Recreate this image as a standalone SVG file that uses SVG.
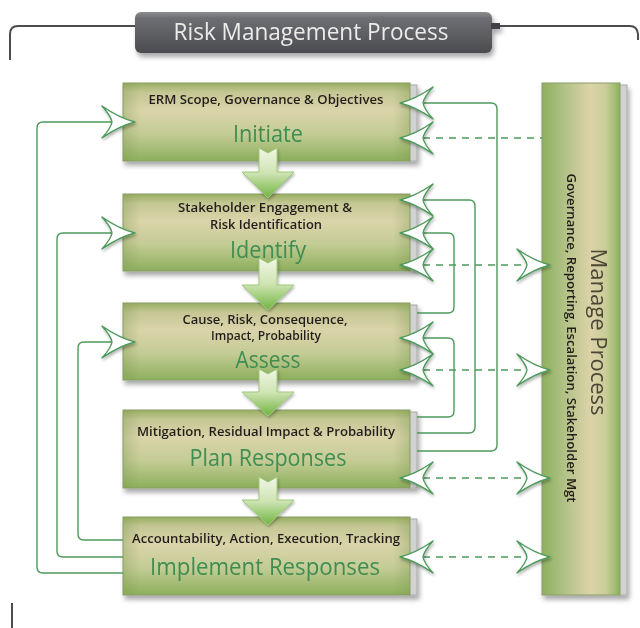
<svg xmlns="http://www.w3.org/2000/svg" xmlns:xlink="http://www.w3.org/1999/xlink" width="640" height="628" viewBox="0 0 640 628">
<defs>
<linearGradient id="boxg" x1="0" y1="0" x2="0" y2="1">
<stop offset="0" stop-color="#98ae62"/>
<stop offset="0.12" stop-color="#c4c794"/>
<stop offset="0.35" stop-color="#dad4aa"/>
<stop offset="0.65" stop-color="#c4cc95"/>
<stop offset="1" stop-color="#8caf5c"/>
</linearGradient>
<linearGradient id="boxside" x1="0" y1="0" x2="1" y2="0">
<stop offset="0" stop-color="#7f9a52" stop-opacity="0.35"/>
<stop offset="0.06" stop-color="#7f9a52" stop-opacity="0"/>
<stop offset="0.94" stop-color="#7f9a52" stop-opacity="0"/>
<stop offset="1" stop-color="#7f9a52" stop-opacity="0.35"/>
</linearGradient>
<linearGradient id="mgrg" x1="0" y1="0" x2="1" y2="0">
<stop offset="0" stop-color="#8db05e"/>
<stop offset="0.3" stop-color="#b3c287"/>
<stop offset="0.62" stop-color="#dcd3a9"/>
<stop offset="0.82" stop-color="#cbcc99"/>
<stop offset="1" stop-color="#8cb25c"/>
</linearGradient>
<linearGradient id="titleg" x1="0" y1="0" x2="0" y2="1">
<stop offset="0" stop-color="#8c8d91"/>
<stop offset="0.15" stop-color="#6d6e72"/>
<stop offset="0.6" stop-color="#5b5c60"/>
<stop offset="1" stop-color="#4a4b4f"/>
</linearGradient>
<linearGradient id="downg" x1="0" y1="0" x2="0" y2="1">
<stop offset="0" stop-color="#f2f6e6"/>
<stop offset="0.5" stop-color="#cfe4b4"/>
<stop offset="1" stop-color="#6fb43f"/>
</linearGradient>
<filter id="sh" x="-10%" y="-10%" width="125%" height="135%">
<feGaussianBlur in="SourceAlpha" stdDeviation="2.5"/>
<feOffset dx="2" dy="4" result="b"/>
<feComponentTransfer><feFuncA type="linear" slope="0.35"/></feComponentTransfer>
<feMerge><feMergeNode/><feMergeNode in="SourceGraphic"/></feMerge>
</filter>
<filter id="ash" x="-30%" y="-30%" width="160%" height="160%">
<feGaussianBlur in="SourceAlpha" stdDeviation="1.5"/>
<feOffset dx="1" dy="2"/>
<feComponentTransfer><feFuncA type="linear" slope="0.3"/></feComponentTransfer>
<feMerge><feMergeNode/><feMergeNode in="SourceGraphic"/></feMerge>
</filter>
<path id="ah" d="M0,0 Q-16,-4 -33,-16 Q-24,-6 -23,0 Q-24,6 -33,16 Q-16,4 0,0 Z" fill="#ffffff" stroke="#4e9a5c" stroke-width="1.4" stroke-linejoin="round"/>
</defs>
<style>
.frame{fill:none;stroke:#4d4d4d;stroke-width:2}
.box{fill:url(#boxg);stroke:#8a9e68;stroke-width:1}
.edge{fill:#d2d2d2;stroke:#a9a9a9;stroke-width:1}
.sm{font-family:"Open Sans","Noto Sans",sans-serif;font-size:12px;font-weight:600;fill:#231f1a;text-anchor:middle}
.big{font-family:"Open Sans","Noto Sans",sans-serif;font-size:23px;fill:#3f8d52;text-anchor:middle}
.ln{fill:none;stroke:#4e9a5c;stroke-width:1.4}
.dl{fill:none;stroke:#4e9a5c;stroke-width:1.4;stroke-dasharray:7 6}
.down{fill:url(#downg);stroke:#9ccb78;stroke-width:1}
</style>
<rect width="640" height="628" fill="#ffffff"/>
<g id="frame">
<path class="frame" d="M10,60 V34 Q10,26 18,26 H135"/>
<path class="frame" d="M492,26 H630 Q637,26 638,34 V40"/>
<path class="frame" d="M12,603 V628"/>
</g>
<g id="title" filter="url(#sh)">
<rect x="135" y="12" width="357" height="41" rx="6" fill="url(#titleg)"/>
<rect x="491" y="23" width="9" height="6" fill="#3f4044"/>
<text x="311" y="40" font-family="'Open Sans','Noto Sans',sans-serif" font-size="24" fill="#ebebeb" text-anchor="middle" textLength="275" lengthAdjust="spacingAndGlyphs">Risk Management Process</text>
</g>
<g id="manage" filter="url(#sh)">
<rect class="edge" x="619" y="85" width="8" height="510"/>
<rect x="542" y="83" width="78" height="512" fill="url(#mgrg)" stroke="#8a9e68" stroke-width="1"/>
<text transform="translate(591,332) rotate(90)" font-family="'Open Sans','Noto Sans',sans-serif" font-size="22" fill="#4a4634" text-anchor="middle" textLength="167" lengthAdjust="spacingAndGlyphs">Manage Process</text>
<text transform="translate(567,338) rotate(90)" class="sm" textLength="329" lengthAdjust="spacingAndGlyphs">Governance, Reporting, Escalation, Stakeholder Mgt</text>
</g>
<g id="initiate" filter="url(#sh)">
<rect class="edge" x="409" y="85" width="8" height="76"/>
<rect class="box" x="123" y="83" width="287" height="78"/>
<rect x="123" y="83" width="287" height="78" fill="url(#boxside)"/>
<text class="sm" x="266" y="104" textLength="235" lengthAdjust="spacingAndGlyphs">ERM Scope, Governance &amp; Objectives</text>
<text class="big" x="268" y="142" textLength="70" lengthAdjust="spacingAndGlyphs">Initiate</text>
</g>
<g id="identify" filter="url(#sh)">
<rect class="edge" x="409" y="196" width="8" height="75"/>
<rect class="box" x="123" y="194" width="287" height="77"/>
<rect x="123" y="194" width="287" height="77" fill="url(#boxside)"/>
<text class="sm" x="265" y="212" textLength="174" lengthAdjust="spacingAndGlyphs">Stakeholder Engagement &amp;</text>
<text class="sm" x="266" y="229" textLength="112" lengthAdjust="spacingAndGlyphs">Risk Identification</text>
<text class="big" x="268" y="258" textLength="76" lengthAdjust="spacingAndGlyphs">Identify</text>
</g>
<g id="assess" filter="url(#sh)">
<rect class="edge" x="409" y="305" width="8" height="75"/>
<rect class="box" x="123" y="303" width="287" height="77"/>
<rect x="123" y="303" width="287" height="77" fill="url(#boxside)"/>
<text class="sm" x="265" y="324" textLength="165" lengthAdjust="spacingAndGlyphs">Cause, Risk, Consequence,</text>
<text class="sm" x="266" y="340" textLength="110" lengthAdjust="spacingAndGlyphs">Impact, Probability</text>
<text class="big" x="268" y="368" textLength="65" lengthAdjust="spacingAndGlyphs">Assess</text>
</g>
<g id="plan" filter="url(#sh)">
<rect class="edge" x="409" y="412" width="8" height="76"/>
<rect class="box" x="123" y="410" width="287" height="78"/>
<rect x="123" y="410" width="287" height="78" fill="url(#boxside)"/>
<text class="sm" x="266" y="436" textLength="258" lengthAdjust="spacingAndGlyphs">Mitigation, Residual Impact &amp; Probability</text>
<text class="big" x="268" y="466" textLength="157" lengthAdjust="spacingAndGlyphs">Plan Responses</text>
</g>
<g id="implement" filter="url(#sh)">
<rect class="edge" x="409" y="519" width="8" height="76"/>
<rect class="box" x="123" y="517" width="287" height="78"/>
<rect x="123" y="517" width="287" height="78" fill="url(#boxside)"/>
<text class="sm" x="266" y="543" textLength="268" lengthAdjust="spacingAndGlyphs">Accountability, Action, Execution, Tracking</text>
<text class="big" x="265" y="575" textLength="230" lengthAdjust="spacingAndGlyphs">Implement Responses</text>
</g>
<g id="connectors">
<g id="flow" filter="url(#ash)">
<path class="down" d="M259,148 L268,153 L277,148 L277,172 L294,172 L268,198 L242,172 L259,172 Z"/>
<path class="down" d="M259,258 L268,263 L277,258 L277,285 L294,285 L268,310 L242,285 L259,285 Z"/>
<path class="down" d="M259,369 L268,374 L277,369 L277,392 L294,392 L268,416 L242,392 L259,392 Z"/>
<path class="down" d="M259,477 L268,482 L277,477 L277,500 L294,500 L268,525 L242,500 L259,500 Z"/>
</g>
<path class="ln" d="M123,573 H43 Q37,573 37,567 V128 Q37,122 43,122 H112"/>
<path class="ln" d="M123,557 H63 Q57,557 57,551 V239 Q57,233 63,233 H112"/>
<path class="ln" d="M123,540 H84 Q78,540 78,534 V348 Q78,342 84,342 H112"/>
<path class="ln" d="M417,451 H491 Q497,451 497,445 V109 Q497,103 491,103 H423"/>
<path class="ln" d="M417,433 H469 Q475,433 475,427 V206 Q475,200 469,200 H423"/>
<path class="ln" d="M417,417 H448 Q454,417 454,411 V344 Q454,338 448,338 H423"/>
<path class="ln" d="M417,313 H448 Q454,313 454,307 V239 Q454,233 448,233 H423"/>
<path class="dl" d="M423,138 H542"/>
<path class="dl" d="M423,265 H527"/>
<path class="dl" d="M423,370 H527"/>
<path class="dl" d="M423,478 H527"/>
<path class="dl" d="M423,557 H527"/>
<g filter="url(#ash)">
<use xlink:href="#ah" transform="translate(135,122)"/>
<use xlink:href="#ah" transform="translate(135,233)"/>
<use xlink:href="#ah" transform="translate(135,342)"/>
<use xlink:href="#ah" transform="translate(400,103) scale(-1,1)"/>
<use xlink:href="#ah" transform="translate(400,138) scale(-1,1)"/>
<use xlink:href="#ah" transform="translate(400,200) scale(-1,1)"/>
<use xlink:href="#ah" transform="translate(400,233) scale(-1,1)"/>
<use xlink:href="#ah" transform="translate(400,265) scale(-1,1)"/>
<use xlink:href="#ah" transform="translate(400,338) scale(-1,1)"/>
<use xlink:href="#ah" transform="translate(400,370) scale(-1,1)"/>
<use xlink:href="#ah" transform="translate(400,478) scale(-1,1)"/>
<use xlink:href="#ah" transform="translate(400,557) scale(-1,1)"/>
<use xlink:href="#ah" transform="translate(550,265)"/>
<use xlink:href="#ah" transform="translate(550,370)"/>
<use xlink:href="#ah" transform="translate(550,478)"/>
<use xlink:href="#ah" transform="translate(550,557)"/>
</g>
</g>
</svg>
